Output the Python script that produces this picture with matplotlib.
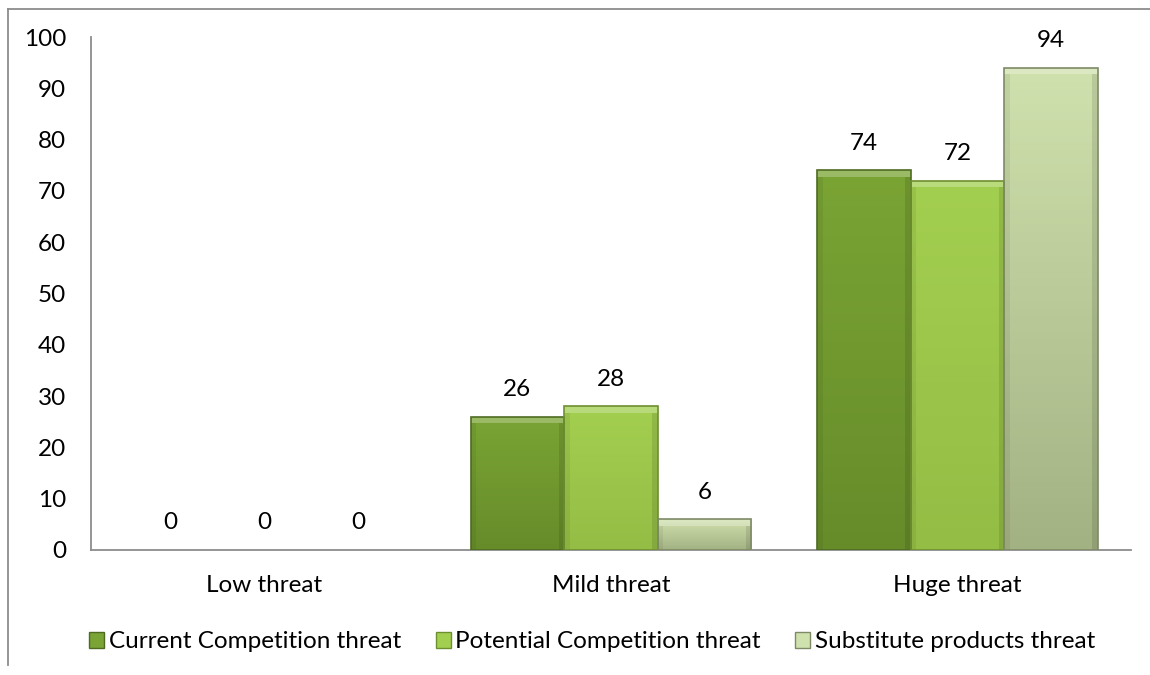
import numpy as np
import matplotlib
matplotlib.use("Agg")
import matplotlib.pyplot as plt
from matplotlib.colors import LinearSegmentedColormap
from matplotlib.lines import Line2D
from matplotlib.patches import Rectangle

categories = ["Low threat", "Mild threat", "Huge threat"]
series_names = ["Current Competition threat", "Potential Competition threat",
                "Substitute products threat"]
current = [0, 26, 74]
potential = [0, 28, 72]
substitute = [0, 6, 94]

series_values = [current, potential, substitute]
# (top colour, bottom colour, edge colour)
series_colors = [("#7aa434", "#668c2a", "#4f6b22"),
                 ("#a3cf50", "#94bd45", "#6e8f30"),
                 ("#cfe1ad", "#a3b283", "#7e8a66")]

plt.rcParams["font.family"] = ["Lato", "DejaVu Sans"]
FS = 17.5

fig = plt.figure(figsize=(11.5, 6.75), dpi=100)
ax = fig.add_axes([91 / 1150, 1 - 550 / 675, (1131 - 91) / 1150, (550 - 37) / 675])

x = np.arange(len(categories))
bar_w = 0.27
offsets = [-bar_w, 0, bar_w]

for vals, off, (c_top, c_bot, c_edge) in zip(series_values, offsets, series_colors):
    cmap = LinearSegmentedColormap.from_list("g", [c_bot, c_top])
    bars = ax.bar(x + off, vals, width=bar_w, color=c_bot, linewidth=0, zorder=3)
    for b, v in zip(bars, vals):
        if v > 0:
            grad = np.linspace(0, 1, 64).reshape(-1, 1)
            im = ax.imshow(grad, cmap=cmap, origin="lower", aspect="auto",
                           extent=[b.get_x(), b.get_x() + b.get_width(), 0, v],
                           zorder=3.1)
            im.set_clip_path(b)
            # light bevel along the top edge, darker bevels on the sides
            ax.add_patch(Rectangle((b.get_x(), v - 1.3), b.get_width(), 1.3,
                                   facecolor="white", alpha=0.25, lw=0, zorder=3.2))
            sw = b.get_width() * 0.06
            ax.add_patch(Rectangle((b.get_x(), 0), sw, v - 1.3,
                                   facecolor="black", alpha=0.06, lw=0, zorder=3.2))
            ax.add_patch(Rectangle((b.get_x() + b.get_width() - sw, 0), sw, v - 1.3,
                                   facecolor="black", alpha=0.10, lw=0, zorder=3.2))
            ax.add_patch(Rectangle((b.get_x(), 0), b.get_width(), v, facecolor="none",
                                   edgecolor=c_edge, lw=1.2, zorder=3.3))
        ax.text(b.get_x() + b.get_width() / 2, v + 5.3, f"{v}", ha="center",
                va="center", fontsize=FS, color="black", zorder=4)

ax.set_xlim(-0.5, 2.5)
ax.set_ylim(0, 100)
ax.set_yticks(np.arange(0, 101, 10))
ax.set_xticks(x)
ax.set_xticklabels(categories)
ax.tick_params(axis="both", length=0, labelsize=FS, colors="black")
ax.tick_params(axis="y", pad=18)
ax.tick_params(axis="x", pad=18)

for side in ["top", "right"]:
    ax.spines[side].set_visible(False)
for side in ["left", "bottom"]:
    ax.spines[side].set_color("#8c8c8c")
    ax.spines[side].set_linewidth(1.3)

handles = [Rectangle((0, 0), 1, 1, facecolor=c[0], edgecolor=c[2], lw=1)
           for c in series_colors]
fig.legend(handles, series_names, loc="center", bbox_to_anchor=(0.515, 1 - 642 / 675),
           ncol=3, frameon=False, fontsize=FS, handlelength=0.62, handleheight=0.62,
           handletextpad=0.2, columnspacing=1.4)

# outer chart border (top and left edges)
fig.add_artist(Line2D([8 / 1150, 1.0], [1 - 9 / 675, 1 - 9 / 675],
                      transform=fig.transFigure, color="#8c8c8c", lw=1.3))
fig.add_artist(Line2D([8 / 1150, 8 / 1150], [1 - 9 / 675, 1 - 665 / 675],
                      transform=fig.transFigure, color="#8c8c8c", lw=1.3))

fig.savefig("out.png", dpi=100, facecolor="white")
